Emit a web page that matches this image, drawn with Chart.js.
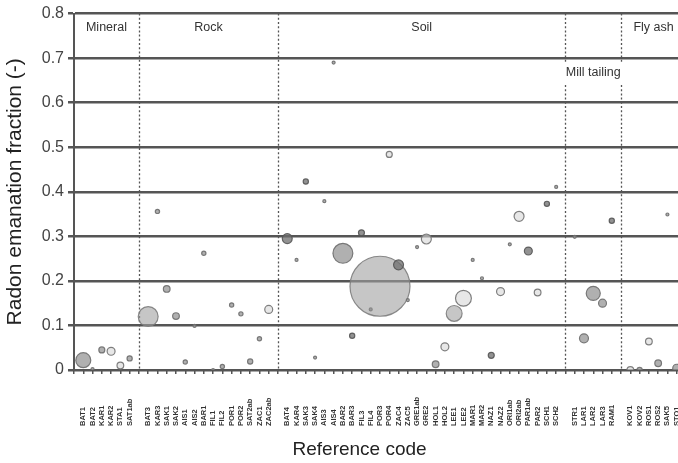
<!DOCTYPE html>
<html>
<head>
<meta charset="utf-8">
<title>Radon emanation fraction by material</title>
<style>
  html, body { margin: 0; padding: 0; background: #fff; }
  #wrap { width: 678px; height: 463px; position: relative; overflow: hidden; }
</style>
<script src="https://cdn.jsdelivr.net/npm/chart.js@4/dist/chart.umd.min.js"></script>
</head>
<body>
<div id="wrap"><canvas id="chart" width="678" height="463"></canvas></div>
<script>
// Material groups, in the order they appear along the axis
const groupNames = ['Mineral', 'Rock', 'Soil', 'Mill tailing', 'Fly ash'];

// Reference codes (tick labels) per group
const mineralCodes = ['BAT1', 'BAT2', 'KAR1', 'KAR2', 'STA1', 'SAT1ab'];
const rockCodes = ['BAT3', 'KAR3', 'SAK1', 'SAK2', 'AIS1', 'AIS2', 'BAR1', 'FIL1',
                   'FIL2', 'POR1', 'POR2', 'SAT2ab', 'ZAC1', 'ZAC2ab'];
const soilCodes = ['BAT4', 'KAR4', 'SAK3', 'SAK4', 'AIS3', 'AIS4', 'BAR2', 'BAR3',
                   'FIL3', 'FIL4', 'POR3', 'POR4', 'ZAC4', 'ZAC5', 'GRE1ab', 'GRE2',
                   'HOL1', 'HOL2', 'LEE1', 'LEE2', 'MAR1', 'MAR2', 'NAZ1', 'NAZ2',
                   'ORI1ab', 'ORI2ab', 'PAR1ab', 'PAR2', 'SCH1', 'SCH2'];
const millCodes = ['STR1', 'LAR1', 'LAR2', 'LAR3', 'RAM1'];
const flyAshCodes = ['KOV1', 'KOV2', 'ROS1', 'ROS2', 'SAK5', 'STO1'];

// Mean radon emanation fraction per reference
const mineralFraction = [0.022, 0.002, 0.045, 0.042, 0.010, 0.026];
const rockFraction = [0.120, 0.356, 0.182, 0.121, 0.018, 0.099, 0.262, 0.000,
                      0.008, 0.146, 0.126, 0.019, 0.070, 0.136];
const soilFraction = [0.295, 0.247, 0.423, 0.028, 0.379, 0.690, 0.262, 0.077,
                      0.308, 0.136, 0.188, 0.484, 0.236, 0.157, 0.276, 0.294,
                      0.013, 0.052, 0.127, 0.161, 0.247, 0.206, 0.033, 0.176,
                      0.282, 0.345, 0.267, 0.174, 0.373, 0.411];
const millFraction = [0.299, 0.071, 0.172, 0.150, 0.335];
const flyAshFraction = [0.000, 0.000, 0.064, 0.015, 0.349, 0.004];

// Number of samples per reference (bubble area)
const mineralSamples = [25, 1, 4, 7, 5, 3];
const rockSamples = [44, 2, 5, 5, 2, 1, 2, 1, 2, 2, 2, 3, 2, 7];
const soilSamples = [11, 1, 3, 1, 1, 1, 44, 3, 4, 1, 400, 4, 11, 1, 1, 11,
                     5, 7, 28, 28, 1, 1, 4, 7, 1, 11, 7, 5, 3, 1];
const millSamples = [1, 9, 22, 7, 3];
const flyAshSamples = [5, 3, 5, 5, 1, 7];

// Shading of individual bubbles (default is 'mid')
const shadeByCode = {
  'KAR2': 'ring', 'STA1': 'ring',
  'BAT3': 'light', 'ZAC2ab': 'ring',
  'BAT4': 'dark', 'SAK3': 'dark', 'BAR3': 'dark', 'FIL3': 'dark', 'FIL4': 'dark',
  'POR3': 'light', 'POR4': 'ring', 'ZAC4': 'dark', 'GRE2': 'ring', 'HOL2': 'ring',
  'LEE1': 'light', 'LEE2': 'ring', 'NAZ1': 'dark', 'NAZ2': 'ring', 'ORI2ab': 'ring',
  'PAR1ab': 'dark', 'PAR2': 'ring', 'SCH1': 'dark',
  'RAM1': 'dark', 'KOV1': 'ring', 'ROS1': 'ring'
};
const shades = {
  light: { fill: 'rgba(160,160,160,0.6)',  line: 'rgba(125,125,125,0.9)' },
  mid:   { fill: 'rgba(150,150,150,0.75)', line: 'rgba(110,110,110,0.9)' },
  dark:  { fill: 'rgba(110,110,110,0.75)', line: 'rgba(85,85,85,0.9)' },
  ring:  { fill: 'rgba(215,215,215,0.6)',  line: 'rgba(120,120,120,0.95)' }
};

const groups = [
  { name: groupNames[0], codes: mineralCodes, frac: mineralFraction, n: mineralSamples },
  { name: groupNames[1], codes: rockCodes, frac: rockFraction, n: rockSamples },
  { name: groupNames[2], codes: soilCodes, frac: soilFraction, n: soilSamples },
  { name: groupNames[3], codes: millCodes, frac: millFraction, n: millSamples },
  { name: groupNames[4], codes: flyAshCodes, frac: flyAshFraction, n: flyAshSamples }
];

// Assign axis slots: one per reference, plus an empty slot for each group separator
let slot = 1;
const allTicks = [];
groups.forEach(g => {
  g.start = slot;
  g.end = slot + g.codes.length;
  g.codes.forEach((c, i) => allTicks.push({ x: slot + i, label: c }));
  slot = g.end + 1;
});
const axisMax = groups[groups.length - 1].end - 0.86;

const datasets = groups.map(g => ({
  label: g.name,
  data: g.codes.map((c, i) => ({ x: g.start + i, y: g.frac[i], r: 1.5 * Math.sqrt(g.n[i]), code: c })),
  backgroundColor: ctx => shades[shadeByCode[ctx.raw && ctx.raw.code] || 'mid'].fill,
  borderColor: ctx => shades[shadeByCode[ctx.raw && ctx.raw.code] || 'mid'].line,
  borderWidth: 1.2
}));

const FONT = '"Liberation Sans", Arial, sans-serif';

// Group separators, group names, reference codes and the x-axis title
const decorations = {
  id: 'decorations',
  beforeDatasetsDraw(chart) {
    const { ctx, chartArea, scales: { x, y } } = chart;
    ctx.save();
    ctx.strokeStyle = '#555';
    ctx.lineWidth = 1.3;
    ctx.setLineDash([2, 2.2]);
    groups.slice(0, -1).forEach(g => {
      const px = Math.round(x.getPixelForValue(g.end)) + 0.5;
      ctx.beginPath();
      ctx.moveTo(px, chartArea.top);
      ctx.lineTo(px, chartArea.bottom);
      ctx.stroke();
    });
    ctx.setLineDash([]);
    ctx.font = '12.5px ' + FONT;
    ctx.fillStyle = '#333';
    ctx.textAlign = 'center';
    ctx.textBaseline = 'middle';
    groups.forEach(g => {
      const cx = x.getPixelForValue((g.start - 1 + g.end) / 2);
      const lower = g.name === 'Mill tailing';
      const cy = y.getPixelForValue(lower ? 0.668 : 0.769);
      if (lower) {
        const w = ctx.measureText(g.name).width;
        ctx.fillStyle = '#fff';
        ctx.fillRect(cx - w / 2 - 3, cy - 10, w + 6, 21);
        ctx.fillStyle = '#333';
      }
      ctx.fillText(g.name, cx, cy);
    });
    ctx.restore();
  },
  afterDraw(chart) {
    const { ctx, chartArea, scales: { x } } = chart;
    ctx.save();
    ctx.font = 'bold 7.5px ' + FONT;
    ctx.fillStyle = '#333';
    ctx.textAlign = 'left';
    ctx.textBaseline = 'middle';
    allTicks.forEach(t => {
      const px = x.getPixelForValue(t.x);
      ctx.save();
      ctx.translate(px, chartArea.bottom + 56);
      ctx.rotate(-Math.PI / 2);
      ctx.fillText(t.label, 0, 0);
      ctx.restore();
    });
    ctx.font = '19px ' + FONT;
    ctx.fillStyle = '#222';
    ctx.textAlign = 'center';
    ctx.fillText('Reference code', x.getPixelForValue(30.8), chartArea.bottom + 80);
    ctx.restore();
  }
};

new Chart(document.getElementById('chart'), {
  type: 'bubble',
  data: { datasets },
  options: {
    responsive: false,
    animation: false,
    events: [],
    layout: { autoPadding: false, padding: { top: 13, right: 0, left: 0, bottom: 0 } },
    plugins: { legend: { display: false }, tooltip: { enabled: false } },
    scales: {
      x: {
        type: 'linear',
        min: 0,
        max: axisMax,
        afterFit: s => { s.height = 93; },
        ticks: { stepSize: 1, includeBounds: false, display: false },
        grid: { drawOnChartArea: false, drawTicks: true, tickLength: 4, color: '#555', lineWidth: 1.5 },
        border: { display: true, color: '#555', width: 2 }
      },
      y: {
        min: 0,
        max: 0.8,
        afterFit: s => { s.width = 74; },
        ticks: {
          stepSize: 0.1,
          padding: 4,
          color: '#444',
          font: { family: FONT, size: 16 },
          callback: v => String(Number(v.toFixed(1)))
        },
        grid: { color: '#555', lineWidth: 2.5, tickLength: 6 },
        border: { display: true, color: '#555', width: 2 },
        title: {
          display: true,
          text: 'Radon emanation fraction (-)',
          color: '#222',
          font: { family: FONT, size: 21 },
          padding: { top: 3, bottom: 0 }
        }
      }
    }
  },
  plugins: [decorations]
});
</script>
</body>
</html>
